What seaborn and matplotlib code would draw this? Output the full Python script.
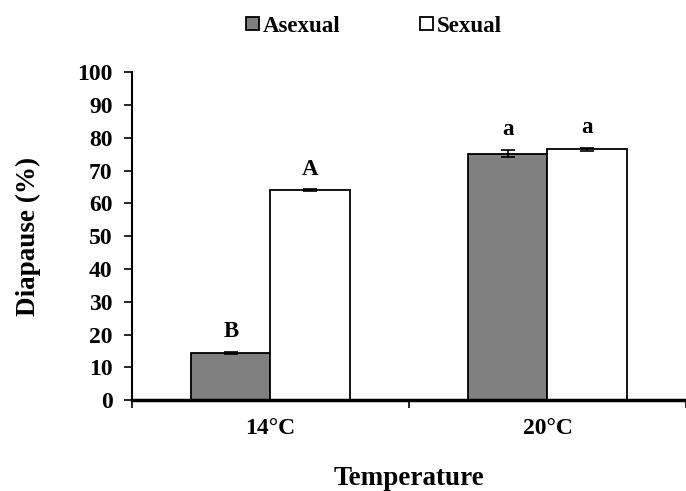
import matplotlib
matplotlib.use("Agg")
import matplotlib.pyplot as plt
import pandas as pd
import seaborn as sns

# data
temperatures = ["14°C", "20°C"]
reproduction = ["Asexual", "Sexual"]
asexual_mean = [14.5, 75.2]
sexual_mean = [64.0, 76.5]
asexual_err = [0.3, 1.1]
sexual_err = [0.3, 0.4]
asexual_letters = ["B", "a"]
sexual_letters = ["A", "a"]

df = pd.DataFrame({
    "Temperature": temperatures * 2,
    "Mode": ["Asexual"] * 2 + ["Sexual"] * 2,
    "Diapause": asexual_mean + sexual_mean,
    "err": asexual_err + sexual_err,
    "letter": asexual_letters + sexual_letters,
})

sns.set_style("white")
plt.rcParams["font.family"] = ["Liberation Serif", "DejaVu Serif"]
plt.rcParams["font.weight"] = "bold"
for k in ["text.color", "axes.labelcolor", "xtick.color", "ytick.color"]:
    plt.rcParams[k] = "black"

fig = plt.figure(figsize=(6.86, 4.91), dpi=100)
ax = fig.add_axes([0.1924, 0.185, 0.8076, 0.668])

sns.barplot(data=df, x="Temperature", y="Diapause", hue="Mode",
            hue_order=reproduction, order=temperatures,
            palette={"Asexual": "#808080", "Sexual": "white"},
            edgecolor="black", linewidth=1.3, width=0.571,
            errorbar=None, ax=ax)

# error bars and significance letters, placed on the drawn bars
bars = [p for p in ax.patches if p.get_height() > 0]
bars = sorted(bars, key=lambda p: p.get_x())
rows = df.set_index(["Temperature", "Mode"])
order = [(t, m) for t in temperatures for m in reproduction]
for p, key in zip(bars, order):
    r = rows.loc[key]
    xc = p.get_x() + p.get_width() / 2
    ax.errorbar(xc, r["Diapause"], yerr=r["err"], fmt="none",
                ecolor="black", elinewidth=1.2, capsize=5, capthick=1.2)
    ax.text(xc, r["Diapause"] + r["err"] + 4.5, r["letter"],
            ha="center", va="baseline", fontsize=16.5, fontweight="bold")

ax.set_xlim(-0.5, 1.479)
ax.set_ylim(0, 100)
ax.set_yticks(range(0, 101, 10))
ax.set_xticks([0, 1])
ax.set_xticklabels(temperatures)
ax.set_xticks([-0.5, 0.5, 1.5], minor=True)
ax.tick_params(axis="x", which="major", bottom=True, length=0, pad=13, labelsize=17)
ax.tick_params(axis="x", which="minor", bottom=True, length=6, width=1.2, direction="out")
ax.tick_params(axis="y", left=True, length=6, width=1.2, direction="out", labelsize=17, pad=8)
for lab in ax.get_xticklabels() + ax.get_yticklabels():
    lab.set_fontweight("bold")

ax.set_xlabel("Temperature", fontsize=19.5, fontweight="bold", labelpad=19)
ax.set_ylabel("Diapause (%)", fontsize=19.5, fontweight="bold", labelpad=26)

for s in ["top", "right"]:
    ax.spines[s].set_visible(False)
ax.spines["left"].set_linewidth(1.5)
ax.spines["bottom"].set_linewidth(2.5)
ax.spines["left"].set_color("black")
ax.spines["bottom"].set_color("black")

handles, labels = ax.get_legend_handles_labels()
ax.get_legend().remove()
fig.legend(handles, labels, loc="center", bbox_to_anchor=(0.545, 0.947),
           ncol=2, frameon=False, handlelength=0.55, handleheight=0.55,
           handletextpad=0.15, columnspacing=3.5,
           prop={"weight": "bold", "size": 16.5})

fig.savefig("out.png", dpi=100)
